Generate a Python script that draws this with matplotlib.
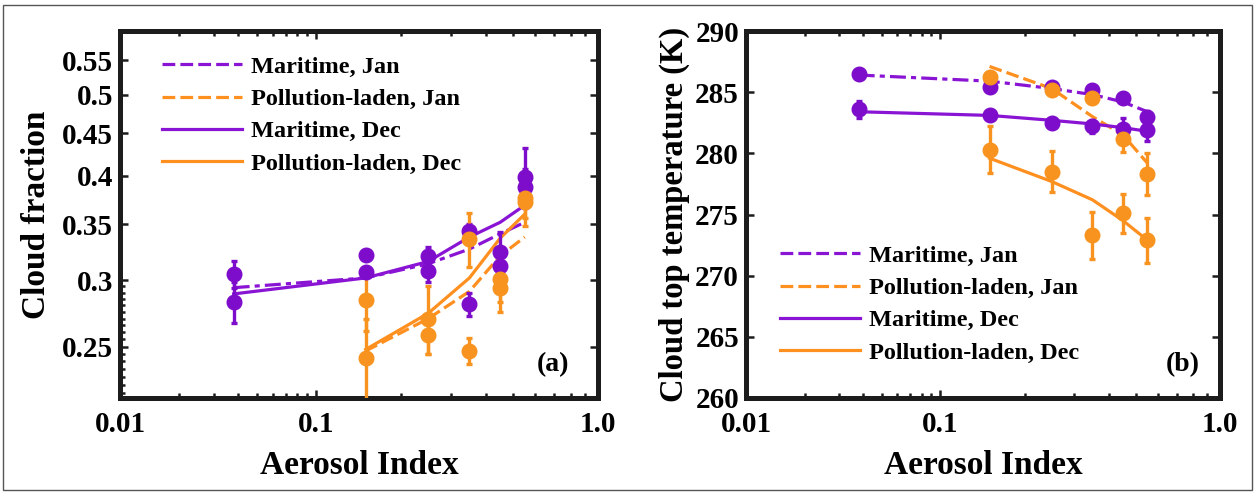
import numpy as np
import matplotlib
matplotlib.use("Agg")
import matplotlib.pyplot as plt
from matplotlib.lines import Line2D
from matplotlib.patches import Rectangle
from matplotlib.ticker import FixedLocator, FixedFormatter, NullFormatter

plt.rcParams['font.family'] = ['Liberation Serif', 'DejaVu Serif']
plt.rcParams['font.weight'] = 'bold'

# ---------------- data ----------------
x_mar = [0.038, 0.15, 0.25, 0.35, 0.45, 0.55]
x_pol = [0.15, 0.25, 0.35, 0.45, 0.55]

# panel (a): cloud fraction
cf_mar_jan = [0.305, 0.322, 0.321, 0.344, 0.324, 0.399]
cf_mar_jan_err = [0.011, 0.004, 0.008, 0.006, 0.019, 0.033]
cf_mar_dec = [0.283, 0.307, 0.308, 0.281, 0.312, 0.388]
cf_mar_dec_err = [0.016, 0.004, 0.009, 0.009, 0.010, 0.020]
cf_pol_jan = [0.284, 0.270, 0.336, 0.301, 0.376]
cf_pol_jan_err = [0.023, 0.025, 0.025, 0.018, 0.020]
cf_pol_dec = [0.2425, 0.258, 0.247, 0.294, 0.372]
cf_pol_dec_err = [0.027, 0.013, 0.009, 0.019, 0.024]

cf_fit_mar_jan = [0.294, 0.302, 0.314, 0.327, 0.341, 0.352]
cf_fit_mar_dec = [0.289, 0.302, 0.316, 0.338, 0.352, 0.369]
cf_fit_pol_jan = [0.247, 0.270, 0.291, 0.321, 0.338]
cf_fit_pol_dec = [0.248, 0.274, 0.302, 0.337, 0.360]

# panel (b): cloud top temperature
ctt_mar_jan = [286.5, 285.4, 285.4, 285.2, 284.5, 283.0]
ctt_mar_jan_err = [0.3, 0.3, 0.3, 0.3, 0.4, 0.5]
ctt_mar_dec = [283.6, 283.1, 282.5, 282.2, 282.0, 281.9]
ctt_mar_dec_err = [0.7, 0.3, 0.3, 0.5, 0.9, 0.9]
ctt_pol_jan = [286.2, 285.2, 284.5, 281.2, 278.3]
ctt_pol_jan_err = [0.4, 0.3, 0.4, 1.1, 1.7]
ctt_pol_dec = [280.3, 278.5, 273.3, 275.1, 272.9]
ctt_pol_dec_err = [1.9, 1.7, 1.9, 1.6, 1.85]

ctt_fit_mar_jan = [286.4, 285.9, 285.3, 284.8, 284.2, 283.4]
ctt_fit_mar_dec = [283.4, 283.1, 282.7, 282.4, 282.1, 281.8]
ctt_fit_pol_jan = [287.1, 285.3, 283.0, 281.5, 279.2]
ctt_fit_pol_dec = [279.6, 277.7, 276.2, 274.5, 272.9]

legend_labels = ['Maritime, Jan', 'Pollution-laden, Jan', 'Maritime, Dec', 'Pollution-laden, Dec']
x_major = [0.01, 0.1, 1.0]
x_major_labels = ['0.01', '0.1', '1.0']
x_minor = [0.02, 0.03, 0.04, 0.05, 0.06, 0.07, 0.08, 0.09, 0.2, 0.3, 0.4, 0.5, 0.6, 0.7, 0.8, 0.9]
cf_ticks = [0.25, 0.3, 0.35, 0.4, 0.45, 0.5, 0.55]
cf_tick_labels = ['0.25', '0.3', '0.35', '0.4', '0.45', '0.5', '0.55']
ctt_ticks = [260, 265, 270, 275, 280, 285, 290]

# ---------------- style ----------------
PURPLE = '#8a14d4'
PURPLE_M = '#7e0ccb'
ORANGE = '#ff8f1f'
ORANGE_M = '#f7931e'
SPINE = '#1c1c1c'
LW = 2.3
MS = 10.5
DASH_J = (4.0, 1.6)
DASHDOT_J = (5.0, 1.6, 1.6, 1.6)

A = 0.41  # fraction of axis width taken by the 0.01-0.1 decade


def fwd(x):
    x = np.asarray(x, dtype=float)
    t = np.log10(np.clip(x, 1e-6, None)) + 2.0
    return np.where(t <= 1.0, t * A, A + (t - 1.0) * (1.0 - A))


def inv(u):
    u = np.asarray(u, dtype=float)
    t = np.where(u <= A, u / A, 1.0 + (u - A) / (1.0 - A))
    return 10.0 ** (t - 2.0)


fig = plt.figure(figsize=(12.55, 4.93), dpi=100)
axa = fig.add_axes([120 / 1255, 1 - 398 / 493, 478 / 1255, 367 / 493])
axb = fig.add_axes([746 / 1255, 1 - 398 / 493, 474 / 1255, 367 / 493])


def style_axes(ax):
    ax.set_xscale('function', functions=(fwd, inv))
    ax.set_xlim(0.01, 1.0)
    ax.xaxis.set_major_locator(FixedLocator(x_major))
    ax.xaxis.set_major_formatter(FixedFormatter(x_major_labels))
    ax.xaxis.set_minor_locator(FixedLocator(x_minor))
    ax.xaxis.set_minor_formatter(NullFormatter())
    for s in ax.spines.values():
        s.set_linewidth(3.6)
        s.set_color(SPINE)
    ax.tick_params(which='both', direction='in', top=True, right=True,
                   color=SPINE, width=1.8, labelsize=21)
    ax.tick_params(which='major', length=6)
    ax.tick_params(which='minor', length=3.5)
    ax.tick_params(axis='x', which='major', pad=9)
    ax.tick_params(axis='y', which='major', pad=5)
    ax.set_xlabel('Aerosol Index', fontsize=24, fontweight='bold', labelpad=9)
    for lab in ax.get_xticklabels() + ax.get_yticklabels():
        lab.set_fontweight('bold')


def draw(ax, fits, pts):
    (fmj, fpj, fmd, fpd) = fits
    ax.plot(x_mar, fmj, color=PURPLE, lw=LW, dashes=DASHDOT_J, zorder=2)
    ax.plot(x_pol, fpj, color=ORANGE, lw=LW, dashes=DASH_J, zorder=2)
    ax.plot(x_mar, fmd, color=PURPLE, lw=LW, ls='-', zorder=2)
    ax.plot(x_pol, fpd, color=ORANGE, lw=LW, ls='-', zorder=2)
    for (xs, ys, es, c) in pts:
        ax.errorbar(xs, ys, yerr=es, fmt='o', color=c, ms=MS, mec=c, mfc=c,
                    elinewidth=2.4, capsize=2.5, capthick=2.4, zorder=3)


def legend(ax, anchor):
    handles = [
        Line2D([], [], color=PURPLE, lw=LW, dashes=DASH_J),
        Line2D([], [], color=ORANGE, lw=LW, dashes=DASH_J),
        Line2D([], [], color=PURPLE, lw=LW, ls='-'),
        Line2D([], [], color=ORANGE, lw=LW, ls='-'),
    ]
    ax.legend(handles, legend_labels, loc='upper left', bbox_to_anchor=anchor,
              frameon=False, borderaxespad=0, borderpad=0, handlelength=3.3,
              handletextpad=0.35, labelspacing=0.42,
              prop={'family': 'Liberation Serif', 'weight': 'bold', 'size': 17.5})


# ---- panel (a)
style_axes(axa)
axa.set_yscale('log')
axa.set_ylim(0.217, 0.596)
axa.yaxis.set_major_locator(FixedLocator(cf_ticks))
axa.yaxis.set_major_formatter(FixedFormatter(cf_tick_labels))
axa.yaxis.set_minor_locator(FixedLocator(list(np.arange(0.22, 0.2999, 0.005))))
axa.yaxis.set_minor_formatter(NullFormatter())
axa.tick_params(axis='y', which='minor', right=False)
for lab in axa.get_yticklabels():
    lab.set_fontweight('bold')
axa.set_ylabel('Cloud fraction', fontsize=24, fontweight='bold', labelpad=7)
draw(axa, (cf_fit_mar_jan, cf_fit_pol_jan, cf_fit_mar_dec, cf_fit_pol_dec),
     [(x_mar, cf_mar_jan, cf_mar_jan_err, PURPLE_M),
      (x_mar, cf_mar_dec, cf_mar_dec_err, PURPLE_M),
      (x_pol, cf_pol_jan, cf_pol_jan_err, ORANGE_M),
      (x_pol, cf_pol_dec, cf_pol_dec_err, ORANGE_M)])
legend(axa, (0.088, 0.932))
axa.text(0.906, 0.09, '(a)', transform=axa.transAxes, ha='center', va='center',
         fontsize=20, fontweight='bold')

# ---- panel (b)
style_axes(axb)
axb.set_ylim(260, 290)
axb.yaxis.set_major_locator(FixedLocator(ctt_ticks))
for lab in axb.get_yticklabels():
    lab.set_fontweight('bold')
axb.set_ylabel('Cloud top temperature (K)', fontsize=23.5, fontweight='bold', labelpad=4)
draw(axb, (ctt_fit_mar_jan, ctt_fit_pol_jan, ctt_fit_mar_dec, ctt_fit_pol_dec),
     [(x_mar, ctt_mar_jan, ctt_mar_jan_err, PURPLE_M),
      (x_mar, ctt_mar_dec, ctt_mar_dec_err, PURPLE_M),
      (x_pol, ctt_pol_jan, ctt_pol_jan_err, ORANGE_M),
      (x_pol, ctt_pol_dec, ctt_pol_dec_err, ORANGE_M)])
legend(axb, (0.072, 0.417))
axb.text(0.922, 0.09, '(b)', transform=axb.transAxes, ha='center', va='center',
         fontsize=20, fontweight='bold')

fig.patches.append(Rectangle((3 / 1255, 3 / 493), 1 - 6 / 1255, 1 - 8 / 493,
                             transform=fig.transFigure, fill=False,
                             ec='#555555', lw=1.0))

fig.savefig('out.png', dpi=100)
